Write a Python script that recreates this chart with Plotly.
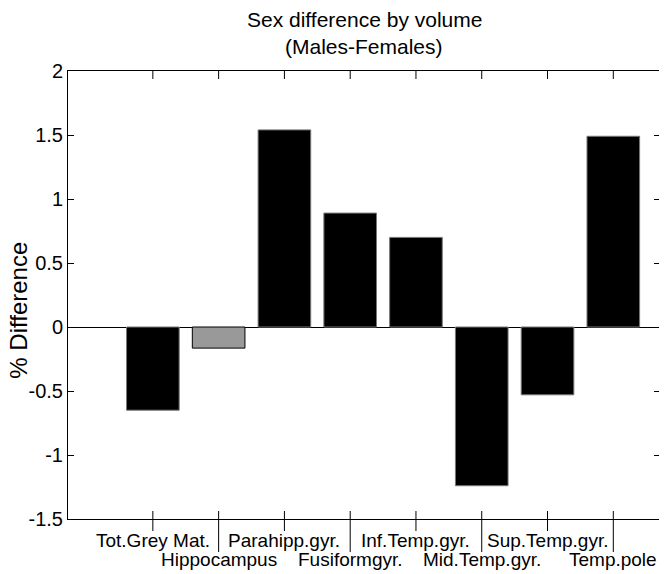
import plotly.graph_objects as go

# Données
regions = ['Tot.Grey Mat.', 'Hippocampus', 'Parahipp.gyr.', 'Fusiformgyr.',
           'Inf.Temp.gyr.', 'Mid.Temp.gyr.', 'Sup.Temp.gyr.', 'Temp.pole']
diff_pct = [-0.65, -0.165, 1.54, 0.89, 0.70, -1.24, -0.53, 1.49]
bar_colors = ['black', '#999999', 'black', 'black', 'black', 'black', 'black', 'black']
y_ticks = [-1.5, -1, -0.5, 0, 0.5, 1, 1.5, 2]
y_ticklabels = ['-1.5', '-1', '-0.5', '0', '0.5', '1', '1.5', '2']

FONT = 'Liberation Sans, Arial, sans-serif'
idx = list(range(len(regions)))

# la page ajoute 8px de marge (body) : on compense
FW, FH = 659, 566
L, R, T, B = 60, 7, 63, 55
H = FH - T - B
W = FW - L - R

fig = go.Figure()
fig.add_trace(go.Bar(
    x=idx,
    y=diff_pct,
    width=0.8,
    marker=dict(color=bar_colors, line=dict(color=['#777777', 'black'] + ['#777777'] * 6, width=1)),
    showlegend=False,
))

# Etiquettes en deux rangées + traits de graduation
for i, name in enumerate(regions):
    row2 = i % 2 == 1
    fig.add_annotation(
        x=i, xref='x', y=-(21 if not row2 else 40) / H, yref='paper',
        text=name, showarrow=False, yanchor='middle',
        font=dict(family=FONT, size=19, color='black'),
    )
    fig.add_shape(
        type='line', xref='x', yref='paper', x0=i, x1=i,
        y0=8 / H, y1=-(33 if row2 else 12) / H,
        line=dict(color='black', width=1),
    )

# Titre sur deux lignes
for txt, ypx in [('Sex difference by volume', 20), ('(Males-Females)', 47)]:
    fig.add_annotation(
        x=0.5, xref='paper', y=1 + (T + 8 - ypx) / H, yref='paper',
        text=txt, showarrow=False, yanchor='middle',
        font=dict(family=FONT, size=21, color='black'),
    )

# Titre de l'axe y
fig.add_annotation(
    x=-(L - 11) / W, xref='paper', y=0.465, yref='paper',
    text='% Difference', textangle=-90, showarrow=False,
    xanchor='center', yanchor='middle',
    font=dict(family=FONT, size=24, color='black'),
)

fig.update_layout(
    width=FW, height=FH,
    margin=dict(l=L, r=R, t=T, b=B),
    plot_bgcolor='white', paper_bgcolor='white',
    xaxis=dict(
        range=[-1.29, 7.71], tickvals=idx, ticktext=[''] * len(idx),
        ticks='', mirror=True, automargin=False,
        showline=True, linecolor='black', linewidth=1, showgrid=False, zeroline=False,
    ),
    yaxis=dict(
        range=[-1.5, 2], tickvals=y_ticks, ticktext=y_ticklabels,
        ticks='inside', ticklen=6, tickcolor='black', mirror='ticks', automargin=False,
        showline=True, linecolor='black', linewidth=1, showgrid=False,
        zeroline=True, zerolinecolor='black', zerolinewidth=1,
        tickfont=dict(family=FONT, size=20, color='black'),
    ),
)

# traits du haut (vers l'intérieur)
for i in idx:
    fig.add_shape(type='line', xref='x', yref='paper', x0=i, x1=i, y0=1, y1=1 - 8 / H,
                  line=dict(color='black', width=1))

fig.write_html("out.html")
